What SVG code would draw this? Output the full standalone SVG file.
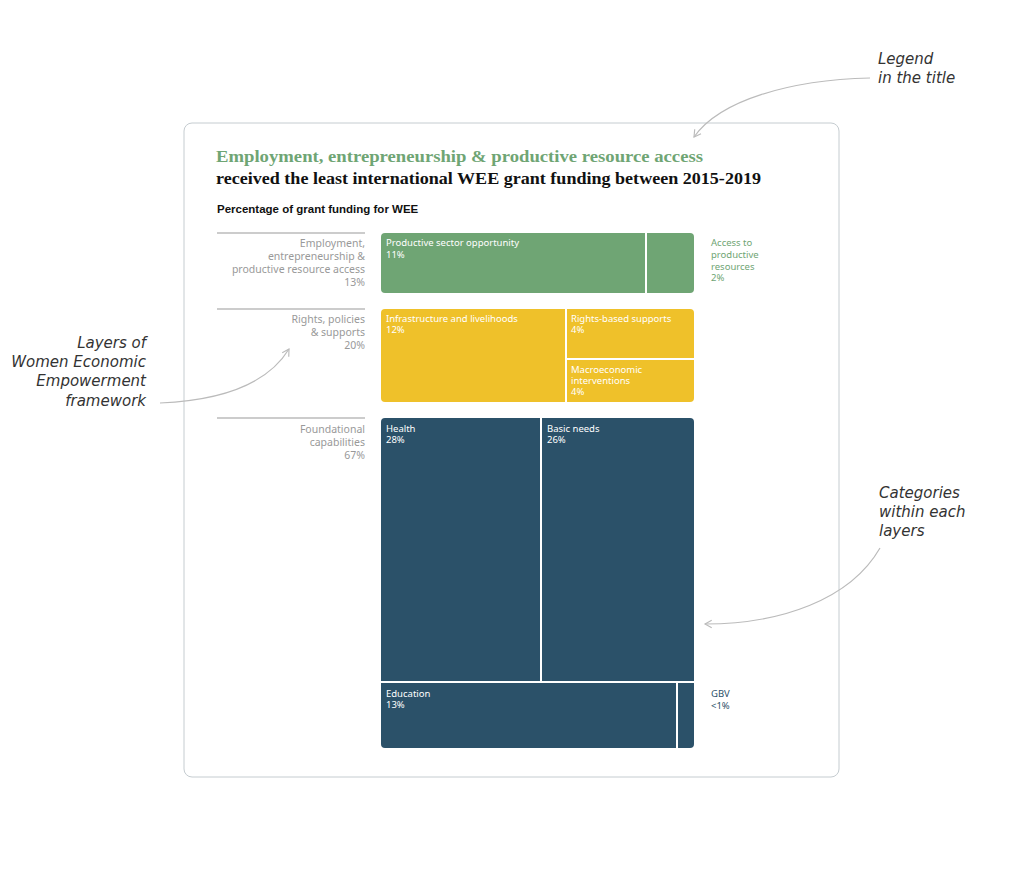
<svg xmlns="http://www.w3.org/2000/svg" width="1024" height="896" viewBox="0 0 1024 896">
<style>
.t1{font-family:"Liberation Serif",serif;font-weight:bold;font-size:17.5px}
.lab{font-family:"Noto Sans","Liberation Sans",sans-serif;font-size:10.5px;fill:#999}
.in{font-family:"Noto Sans","Liberation Sans",sans-serif;font-size:9.5px;fill:#fff}
.side{font-family:"Noto Sans","Liberation Sans",sans-serif;font-size:9.5px}
.ann{font-family:"DejaVu Sans",sans-serif;font-style:italic;font-size:15px;fill:#333}
.sep{stroke:#fff;stroke-width:2}
.rule{stroke:#bbb;stroke-width:1.5}
.arr{fill:none;stroke:#bbb;stroke-width:1.2;marker-end:url(#ah)}
</style>
<defs><marker id="ah" viewBox="0 0 10 10" refX="8" refY="5" markerWidth="8" markerHeight="8" orient="auto"><path d="M1,1 L8,5 L1,9" fill="none" stroke="#bbb" stroke-width="1.2"/></marker></defs>
<rect width="1024" height="896" fill="#fff"/>
<rect x="184" y="123" width="655" height="654" rx="8" fill="none" stroke="#c5ccd0"/>
<g id="title">
<text class="t1" x="216" y="162" fill="#6fa574" textLength="487" lengthAdjust="spacingAndGlyphs">Employment, entrepreneurship &amp; productive resource access</text>
<text class="t1" x="216" y="184" fill="#111" textLength="545" lengthAdjust="spacingAndGlyphs">received the least international WEE grant funding between 2015-2019</text>
<text x="217" y="213" font-family="Liberation Sans,sans-serif" font-size="11.5" font-weight="bold" fill="#111">Percentage of grant funding for WEE</text>
</g>
<g id="layer1">
<line class="rule" x1="217" y1="233" x2="365" y2="233"/>
<text class="lab" text-anchor="end"><tspan x="365" y="247">Employment,</tspan><tspan x="365" y="260">entrepreneurship &amp;</tspan><tspan x="365" y="273">productive resource access</tspan><tspan x="365" y="286">13%</tspan></text>
<rect x="381" y="233" width="313" height="60" rx="4" fill="#6fa574"/>
<line class="sep" x1="646" y1="233" x2="646" y2="293"/>
<text class="in"><tspan x="386" y="246">Productive sector opportunity</tspan><tspan x="386" y="258">11%</tspan></text>
<text class="side" fill="#6fa574"><tspan x="711" y="246">Access to</tspan><tspan x="711" y="258">productive</tspan><tspan x="711" y="269.5">resources</tspan><tspan x="711" y="281">2%</tspan></text>
</g>
<g id="layer2">
<line class="rule" x1="217" y1="309" x2="365" y2="309"/>
<text class="lab" text-anchor="end"><tspan x="365" y="323">Rights, policies</tspan><tspan x="365" y="336">&amp; supports</tspan><tspan x="365" y="349">20%</tspan></text>
<rect x="381" y="309" width="313" height="93" rx="4" fill="#efc12a"/>
<line class="sep" x1="566" y1="309" x2="566" y2="402"/>
<line class="sep" x1="566" y1="359" x2="694" y2="359"/>
<text class="in"><tspan x="386" y="322">Infrastructure and livelihoods</tspan><tspan x="386" y="333">12%</tspan></text>
<text class="in"><tspan x="571" y="322">Rights-based supports</tspan><tspan x="571" y="333">4%</tspan></text>
<text class="in"><tspan x="571" y="373">Macroeconomic</tspan><tspan x="571" y="384">interventions</tspan><tspan x="571" y="395">4%</tspan></text>
</g>
<g id="layer3">
<line class="rule" x1="217" y1="418" x2="365" y2="418"/>
<text class="lab" text-anchor="end"><tspan x="365" y="433">Foundational</tspan><tspan x="365" y="446">capabilities</tspan><tspan x="365" y="459">67%</tspan></text>
<rect x="381" y="418" width="313" height="330" rx="4" fill="#2b5169"/>
<line class="sep" x1="541" y1="418" x2="541" y2="682"/>
<line class="sep" x1="381" y1="682" x2="694" y2="682"/>
<line class="sep" x1="677" y1="682" x2="677" y2="748"/>
<text class="in"><tspan x="386" y="432">Health</tspan><tspan x="386" y="443">28%</tspan></text>
<text class="in"><tspan x="547" y="432">Basic needs</tspan><tspan x="547" y="443">26%</tspan></text>
<text class="in"><tspan x="386" y="697">Education</tspan><tspan x="386" y="708">13%</tspan></text>
<text class="side" fill="#2b5169"><tspan x="711" y="697">GBV</tspan><tspan x="711" y="709">&lt;1%</tspan></text>
</g>
<g id="annotations">
<text class="ann"><tspan x="878" y="64">Legend</tspan><tspan x="878" y="83">in the title</tspan></text>
<text class="ann" text-anchor="end"><tspan x="146" y="348">Layers of</tspan><tspan x="146" y="367">Women Economic</tspan><tspan x="146" y="386">Empowerment</tspan><tspan x="146" y="406">framework</tspan></text>
<text class="ann"><tspan x="879" y="498">Categories</tspan><tspan x="879" y="517">within each</tspan><tspan x="879" y="536">layers</tspan></text>
</g>
<g id="connectors">
<path class="arr" d="M870,78 C790,80 720,100 694,137"/>
<path class="arr" d="M160,403 C230,400 270,380 289,349"/>
<path class="arr" d="M880,548 C850,600 780,624 705,624"/>
</g>
</svg>
